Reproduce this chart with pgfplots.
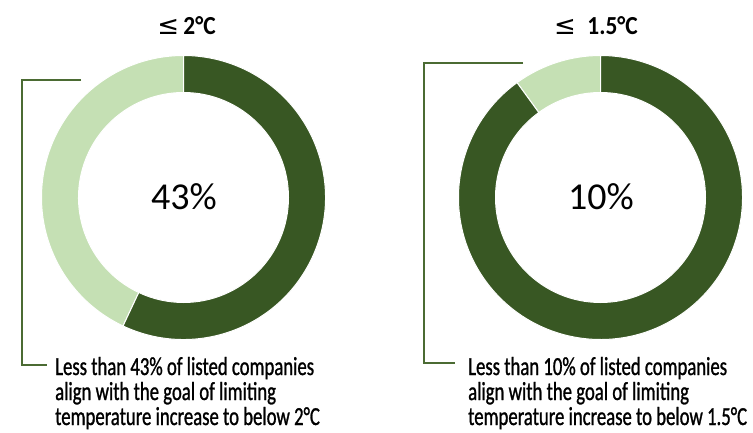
\documentclass[border=0pt]{standalone}
\usepackage{fontspec}
\setmainfont{Carlito}
\newfontfamily\capfont[FakeStretch=0.72,FakeBold=1]{Carlito}
\newfontfamily\titlefont[FakeStretch=0.9]{Carlito}
\newfontfamily\symfont{DejaVu Sans}
\usepackage{pgfplots}
\usepackage{pgfplotstable}
\pgfplotsset{compat=1.18}
\definecolor{darkg}{HTML}{385723}
\definecolor{lightg}{HTML}{C5E0B4}
\definecolor{brk}{HTML}{4B6B33}

\pgfplotstableread{
chart share
A 43
B 10
}\donuts

\begin{document}
\begin{tikzpicture}
\useasboundingbox (0,0) rectangle (753pt,432pt);
\pgfplotstablegetelem{0}{share}\of\donuts
\pgfmathsetmacro\eaA{90+3.6*\pgfplotsretval}
\pgfplotstablegetelem{1}{share}\of\donuts
\pgfmathsetmacro\eaB{90+3.6*\pgfplotsretval}
\begin{axis}[at={(0,0)},anchor=south west,width=753pt,height=432pt,scale only axis,
  xmin=0,xmax=753,ymin=0,ymax=432,axis lines=none,ticks=none,clip=false]
% left donut
\fill[lightg,draw=white,line width=1pt] (axis cs:183.5,234.5) ++(90:142pt)
  arc[start angle=90,end angle=\eaA,radius=142pt] -- ++(\eaA:-37pt)
  arc[start angle=\eaA,end angle=90,radius=105pt] -- cycle;
\fill[darkg,draw=white,line width=1pt] (axis cs:183.5,234.5) ++(\eaA:142pt)
  arc[start angle=\eaA,end angle=450,radius=142pt] -- ++(90:-37pt)
  arc[start angle=450,end angle=\eaA,radius=105pt] -- cycle;
% right donut
\fill[lightg,draw=white,line width=1pt] (axis cs:600.5,234.5) ++(90:142pt)
  arc[start angle=90,end angle=\eaB,radius=142pt] -- ++(\eaB:-37pt)
  arc[start angle=\eaB,end angle=90,radius=105pt] -- cycle;
\fill[darkg,draw=white,line width=1pt] (axis cs:600.5,234.5) ++(\eaB:142pt)
  arc[start angle=\eaB,end angle=450,radius=142pt] -- ++(90:-37pt)
  arc[start angle=450,end angle=\eaB,radius=105pt] -- cycle;
% brackets
\addplot[brk,line width=1.6pt] coordinates {(81,352) (22,352) (22,67) (47,67)};
\addplot[brk,line width=1.6pt] coordinates {(523,369) (424,369) (424,69) (455,69)};
% center labels
\node[inner sep=0] at (axis cs:184,235) {\fontsize{38}{40}\selectfont 43\%};
\node[inner sep=0] at (axis cs:601,235) {\fontsize{38}{40}\selectfont 10\%};
% titles
\node[anchor=base,inner sep=0] at (axis cs:186.5,397) {\fontsize{26}{30}\selectfont{\symfont ≤}\,{\titlefont\bfseries 2°C}};
\node[anchor=base,inner sep=0] at (axis cs:596,397) {\fontsize{26}{30}\selectfont{\symfont ≤}\;\,{\titlefont\bfseries 1.5°C}};
% captions
\node[anchor=base west,inner sep=0] at (axis cs:55,57) {\capfont\fontsize{26}{25}\selectfont Less than 43\% of listed companies};
\node[anchor=base west,inner sep=0] at (axis cs:55,32) {\capfont\fontsize{26}{25}\selectfont align with the goal of limiting};
\node[anchor=base west,inner sep=0] at (axis cs:55,7) {\capfont\fontsize{26}{25}\selectfont temperature increase to below 2°C};
\node[anchor=base west,inner sep=0] at (axis cs:468,57) {\capfont\fontsize{26}{25}\selectfont Less than 10\% of listed companies};
\node[anchor=base west,inner sep=0] at (axis cs:468,32) {\capfont\fontsize{26}{25}\selectfont align with the goal of limiting};
\node[anchor=base west,inner sep=0] at (axis cs:468,7) {\capfont\fontsize{26}{25}\selectfont temperature increase to below 1.5°C};
\end{axis}
\end{tikzpicture}
\end{document}
